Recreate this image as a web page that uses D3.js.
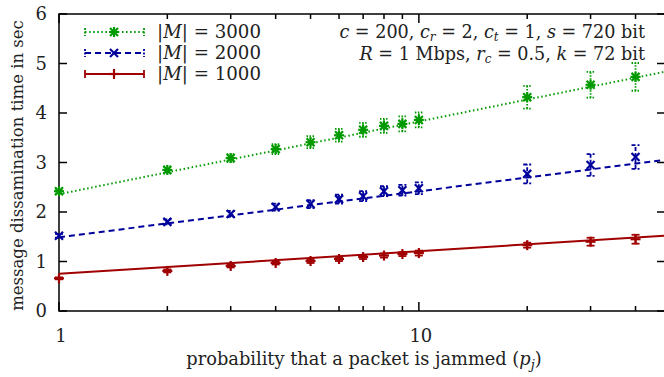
<!DOCTYPE html>
<html>
<head>
<meta charset="utf-8">
<script src="https://cdn.jsdelivr.net/npm/d3@7"></script>
<style>
  body { margin: 0; background: #fff; }
  svg { font-family: "DejaVu Serif", serif; }
</style>
</head>
<body>
<svg id="chart"></svg>
<script>
// probabilidad de bloqueo (eje x) y tiempos medidos
const pj = [1, 2, 3, 4, 5, 6, 7, 8, 9, 10, 20, 30, 40];

const t3000 = [2.42, 2.85, 3.09, 3.27, 3.41, 3.55, 3.66, 3.74, 3.78, 3.86, 4.32, 4.57, 4.73];
const e3000 = [0.05, 0.07, 0.08, 0.10, 0.12, 0.13, 0.14, 0.14, 0.15, 0.15, 0.23, 0.26, 0.28];

const t2000 = [1.52, 1.80, 1.96, 2.10, 2.16, 2.26, 2.32, 2.42, 2.44, 2.48, 2.77, 2.95, 3.11];
const e2000 = [0.04, 0.05, 0.06, 0.07, 0.08, 0.09, 0.10, 0.10, 0.11, 0.12, 0.19, 0.22, 0.24];

const t1000 = [0.66, 0.81, 0.91, 0.97, 1.01, 1.05, 1.09, 1.12, 1.15, 1.17, 1.33, 1.40, 1.45];
const e1000 = [0.02, 0.03, 0.03, 0.03, 0.04, 0.04, 0.04, 0.04, 0.04, 0.05, 0.05, 0.08, 0.09];

// rectas de ajuste (valor en x = 1 y x = 48)
const fitX = [1, 48];
const fit3000 = [2.36, 4.83];
const fit2000 = [1.49, 3.05];
const fit1000 = [0.75, 1.52];

const yTicks = [0, 1, 2, 3, 4, 5, 6];
const xMinor = [2, 3, 4, 5, 6, 7, 8, 9, 20, 30, 40];
const xMajor = [1, 10];

const width = 664, height = 377;
const mLeft = 59, mRight = 665, mTop = 14, mBottom = 311;

const svg = d3.select("#chart").attr("width", width).attr("height", height);

const x = d3.scaleLog().domain([1, 48.3]).range([mLeft, mRight]);
const y = d3.scaleLinear().domain([0, 6]).range([mBottom, mTop]);

const series = [
  { label: "3000", t: t3000, e: e3000, fit: fit3000, color: "#009a00", dash: "1.5,2.6", marker: "star" },
  { label: "2000", t: t2000, e: e2000, fit: fit2000, color: "#00009c", dash: "6,4", marker: "x" },
  { label: "1000", t: t1000, e: e1000, fit: fit1000, color: "#a00000", dash: null, marker: "plus" }
];

// ejes
const axes = svg.append("g").attr("stroke", "#000").attr("stroke-width", 1.5);
axes.append("path")
  .attr("fill", "none")
  .attr("d", `M${mRight},${mTop}H${mLeft}V${mBottom}H${mRight}`);

yTicks.forEach(v => {
  axes.append("line").attr("x1", mLeft).attr("x2", mLeft + 8).attr("y1", y(v)).attr("y2", y(v));
  axes.append("line").attr("x1", mRight - 8).attr("x2", mRight).attr("y1", y(v)).attr("y2", y(v));
});
xMinor.forEach(v => {
  axes.append("line").attr("x1", x(v)).attr("x2", x(v)).attr("y1", mBottom).attr("y2", mBottom - 5);
  axes.append("line").attr("x1", x(v)).attr("x2", x(v)).attr("y1", mTop).attr("y2", mTop + 5);
});
xMajor.forEach(v => {
  axes.append("line").attr("x1", x(v)).attr("x2", x(v)).attr("y1", mBottom).attr("y2", mBottom - 9);
  axes.append("line").attr("x1", x(v)).attr("x2", x(v)).attr("y1", mTop).attr("y2", mTop + 9);
});

svg.append("g").selectAll("text").data(yTicks).join("text")
  .attr("x", mLeft - 12).attr("y", d => y(d) + 6)
  .attr("text-anchor", "end").attr("font-size", 18).attr("fill", "#222")
  .text(d => d);

svg.append("g").selectAll("text").data(xMajor).join("text")
  .attr("x", d => x(d) + 2).attr("y", mBottom + 31)
  .attr("text-anchor", "middle").attr("font-size", 18).attr("fill", "#222")
  .text(d => d);

// titulos de ejes
svg.append("text")
  .attr("transform", `translate(23,${(mTop + mBottom) / 2 + 3}) rotate(-90)`)
  .attr("text-anchor", "middle").attr("font-size", 16.5).attr("fill", "#222")
  .text("message dissamination time in sec");

const xl = svg.append("text")
  .attr("x", 364).attr("y", 365)
  .attr("text-anchor", "middle").attr("font-size", 17.8).attr("fill", "#222");
xl.append("tspan").text("probability that a packet is jammed (");
xl.append("tspan").attr("font-style", "italic").text("p");
xl.append("tspan").attr("font-style", "italic").attr("font-size", 13).attr("dy", 4).text("j");
xl.append("tspan").attr("dy", -4).text(")");

// marcadores
function drawMarker(g, cx, cy, type, color, s) {
  const m = g.append("g").attr("stroke", color).attr("stroke-width", 2.2).attr("fill", "none");
  if (type === "plus" || type === "star") {
    m.append("line").attr("x1", cx - s).attr("x2", cx + s).attr("y1", cy).attr("y2", cy);
    m.append("line").attr("x1", cx).attr("x2", cx).attr("y1", cy - s).attr("y2", cy + s);
  }
  if (type === "x" || type === "star") {
    const d = s * 0.8;
    m.append("line").attr("x1", cx - d).attr("x2", cx + d).attr("y1", cy - d).attr("y2", cy + d);
    m.append("line").attr("x1", cx - d).attr("x2", cx + d).attr("y1", cy + d).attr("y2", cy - d);
  }
}

const plot = svg.append("g");
plot.append("clipPath").attr("id", "clip")
  .append("rect").attr("x", mLeft).attr("y", mTop).attr("width", mRight - mLeft).attr("height", mBottom - mTop);

series.forEach(s => {
  const g = plot.append("g");
  // recta de ajuste
  g.append("line")
    .attr("clip-path", "url(#clip)")
    .attr("x1", x(fitX[0])).attr("y1", y(s.fit[0]))
    .attr("x2", x(fitX[1])).attr("y2", y(s.fit[1]))
    .attr("stroke", s.color).attr("stroke-width", 2)
    .attr("stroke-dasharray", s.dash);
  // barras de error
  pj.forEach((p, i) => {
    const cx = x(p), y0 = y(s.t[i] - s.e[i]), y1 = y(s.t[i] + s.e[i]);
    const cap = 4;
    const eb = g.append("g").attr("stroke", s.color).attr("stroke-width", 1.8)
      .attr("stroke-dasharray", s.dash ? (s.marker === "star" ? "1.5,1.5" : "4,2") : null);
    eb.append("line").attr("x1", cx).attr("x2", cx).attr("y1", y0).attr("y2", y1);
    eb.append("line").attr("x1", cx - cap).attr("x2", cx + cap).attr("y1", y0).attr("y2", y0);
    eb.append("line").attr("x1", cx - cap).attr("x2", cx + cap).attr("y1", y1).attr("y2", y1);
    drawMarker(g, cx, y(s.t[i]), s.marker, s.color, 5);
  });
});

// leyenda
const legendY = [32, 53, 74];
series.forEach((s, i) => {
  const ly = legendY[i];
  const g = svg.append("g");
  g.append("line").attr("x1", 85).attr("x2", 144).attr("y1", ly).attr("y2", ly)
    .attr("stroke", s.color).attr("stroke-width", 2).attr("stroke-dasharray", s.dash);
  [85, 144].forEach(cx => {
    g.append("line").attr("x1", cx).attr("x2", cx).attr("y1", ly - 4).attr("y2", ly + 4)
      .attr("stroke", s.color).attr("stroke-width", 1.8)
      .attr("stroke-dasharray", s.dash ? "2,1.5" : null);
  });
  drawMarker(g, 114, ly, s.marker, s.color, 5);
  const t = g.append("text").attr("x", 157).attr("y", ly + 6).attr("font-size", 18.2).attr("fill", "#222");
  t.append("tspan").text("|");
  t.append("tspan").attr("font-style", "italic").text("M");
  t.append("tspan").text("| = " + s.label);
});

// parametros
const a1 = svg.append("text").attr("x", 645).attr("y", 38)
  .attr("text-anchor", "end").attr("font-size", 17.6).attr("fill", "#222");
a1.append("tspan").attr("font-style", "italic").text("c");
a1.append("tspan").text(" = 200, ");
a1.append("tspan").attr("font-style", "italic").text("c");
a1.append("tspan").attr("font-style", "italic").attr("font-size", 12).attr("dy", 3).text("r");
a1.append("tspan").attr("dy", -3).text(" = 2, ");
a1.append("tspan").attr("font-style", "italic").text("c");
a1.append("tspan").attr("font-style", "italic").attr("font-size", 12).attr("dy", 3).text("t");
a1.append("tspan").attr("dy", -3).text(" = 1, ");
a1.append("tspan").attr("font-style", "italic").text("s");
a1.append("tspan").text(" = 720 bit");

const a2 = svg.append("text").attr("x", 645).attr("y", 60)
  .attr("text-anchor", "end").attr("font-size", 17.6).attr("fill", "#222");
a2.append("tspan").attr("font-style", "italic").text("R");
a2.append("tspan").text(" = 1 Mbps, ");
a2.append("tspan").attr("font-style", "italic").text("r");
a2.append("tspan").attr("font-style", "italic").attr("font-size", 12).attr("dy", 3).text("c");
a2.append("tspan").attr("dy", -3).text(" = 0.5, ");
a2.append("tspan").attr("font-style", "italic").text("k");
a2.append("tspan").text(" = 72 bit");
</script>
</body>
</html>
